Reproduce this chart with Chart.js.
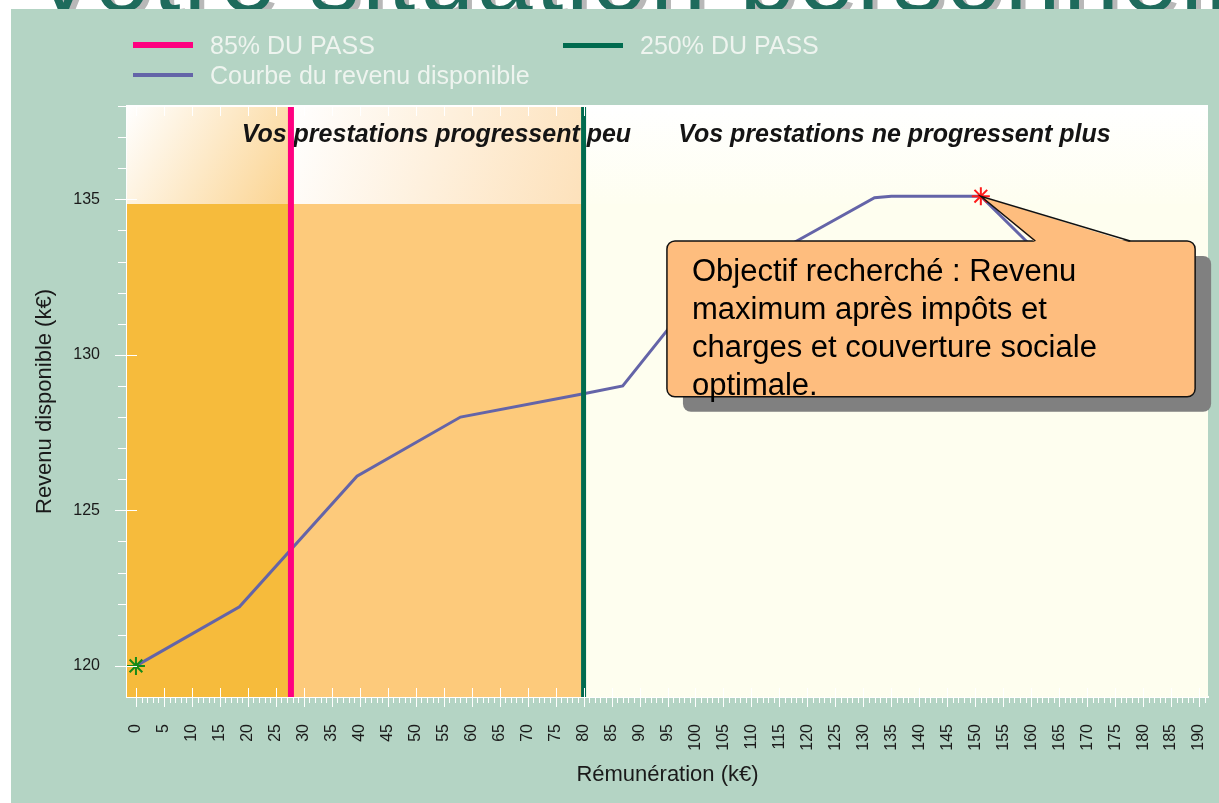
<!DOCTYPE html>
<html lang="fr">
<head>
<meta charset="utf-8">
<title>Votre situation personnelle</title>
<script src="https://cdn.jsdelivr.net/npm/chart.js@4.4.1/dist/chart.umd.min.js"></script>
<style>
  html, body { margin: 0; padding: 0; background: #fff; width: 1219px; height: 803px; overflow: hidden; }
  #title { position: absolute; left: 30px; top: -74px; font: 100px/100px "Liberation Sans", Arial, sans-serif;
           color: #1E6B5C; text-shadow: 5px 4px 0 #B8B8B8; white-space: nowrap; letter-spacing: 3px; }
  #panel { position: absolute; left: 11px; top: 9px; right: 0; bottom: 0; background: #B4D4C4; }
  #chart { position: absolute; left: 0; top: 0; }
  #legend { position: absolute; left: 133px; top: 30px; display: grid; grid-template-columns: 430px auto;
            grid-auto-rows: 30px; font: 25px "Liberation Sans", Arial, sans-serif; color: #EEF4EF; }
  #legend .item { display: flex; align-items: center; white-space: nowrap; }
  #legend .sw { display: inline-block; width: 60px; margin-right: 17px; }
</style>
</head>
<body>
<div id="title">Votre situation personnelle</div>
<div id="panel"></div>
<canvas id="chart" width="1219" height="803"></canvas>
<div id="legend"></div>
<script>
// rémunération (k€) / revenu disponible (k€)
const remuneration = [0, 18.5, 39.5, 58, 80, 87, 95, 99, 118.5, 132, 135, 151, 160];
const revenu = [120, 121.9, 126.1, 128.0, 128.75, 129.0, 130.8, 131.8, 133.7, 135.05, 135.1, 135.1, 133.5];

const pass85 = 27.7;   // 85% du PASS
const pass250 = 80;    // 250% du PASS

const xTickLabels = [0, 5, 10, 15, 20, 25, 30, 35, 40, 45, 50, 55, 60, 65, 70, 75, 80, 85, 90, 95,
                     100, 105, 110, 115, 120, 125, 130, 135, 140, 145, 150, 155, 160, 165, 170, 175, 180, 185, 190];
const yTickLabels = [120, 125, 130, 135];

const zoneLabels = ['Vos prestations progressent peu', 'Vos prestations ne progressent plus'];
const calloutLines = ['Objectif recherché : Revenu', 'maximum après impôts et',
                      'charges et couverture sociale', 'optimale.'];

const yMin = 119, yMax = 138;
const optIdx = remuneration.indexOf(151);

const curve = remuneration.map((x, i) => ({x: x, y: revenu[i]}));

function minorTicks(from, to) {
    const out = [];
    for (let v = from; v <= to; v++) out.push({value: v});
    return out;
}

const font = '"Liberation Sans", Arial, sans-serif';
Chart.defaults.font.family = font;

// fonds des zones + libellés des zones
const zones = {
    id: 'zones',
    beforeDatasetsDraw(chart) {
        const {ctx, chartArea: a, scales: {x, y}} = chart;
        const xp = x.getPixelForValue(pass85);
        const xg = x.getPixelForValue(pass250);
        const yb = y.getPixelForValue(134.85);
        ctx.save();
        ctx.fillStyle = '#FEFEEF';
        ctx.fillRect(a.left, a.top, a.right - a.left, a.bottom - a.top);
        let g = ctx.createLinearGradient(0, a.top, 0, yb);
        g.addColorStop(0, '#FFFFFF');
        g.addColorStop(1, '#FEFEF0');
        ctx.fillStyle = g;
        ctx.fillRect(xg, a.top, a.right - xg, yb - a.top);

        ctx.fillStyle = '#F6BB3C';
        ctx.fillRect(a.left, yb, xp - a.left, a.bottom - yb);
        ctx.fillStyle = '#FDCA7B';
        ctx.fillRect(xp, yb, xg - xp, a.bottom - yb);

        g = ctx.createLinearGradient(a.left, a.top, xp, yb);
        g.addColorStop(0, '#FFFFFF');
        g.addColorStop(1, '#FBD38F');
        ctx.fillStyle = g;
        ctx.fillRect(a.left, a.top, xp - a.left, yb - a.top);
        g = ctx.createLinearGradient(xp, a.top, xg, yb);
        g.addColorStop(0, '#FFFFFF');
        g.addColorStop(1, '#FDE1BA');
        ctx.fillStyle = g;
        ctx.fillRect(xp, a.top, xg - xp, yb - a.top);

        ctx.fillStyle = '#141414';
        ctx.font = 'italic bold 25px ' + font;
        ctx.textBaseline = 'alphabetic';
        const ty = y.getPixelForValue(136.85);
        ctx.fillText(zoneLabels[0], x.getPixelForValue(18.9), ty);
        ctx.fillText(zoneLabels[1], x.getPixelForValue(96.9), ty);
        ctx.restore();
    },
    afterDatasetsDraw(chart) {
        const {ctx, chartArea: a, scales: {x, y}} = chart;
        ctx.save();
        ctx.strokeStyle = '#FFFFFF';
        ctx.lineWidth = 1;
        ctx.beginPath();
        x.ticks.forEach(t => {
            const px = Math.round(x.getPixelForValue(t.value)) + 0.5;
            const major = xTickLabels.includes(t.value);
            ctx.moveTo(px, a.bottom - (major ? 9 : 0));
            ctx.lineTo(px, a.bottom + (major ? 10 : 6));
            if (major) {
                ctx.moveTo(px, a.top);
                ctx.lineTo(px, a.top + 10);
            }
        });
        y.ticks.forEach(t => {
            const py = Math.round(y.getPixelForValue(t.value)) + 0.5;
            const major = yTickLabels.includes(t.value);
            ctx.moveTo(a.left - (major ? 12 : 9), py);
            ctx.lineTo(a.left + (major ? 10 : 0), py);
        });
        ctx.stroke();
        ctx.lineWidth = 2;
        ctx.beginPath();
        ctx.moveTo(a.left, a.top);
        ctx.lineTo(a.right, a.top);
        ctx.stroke();
        ctx.restore();
    }
};

// bulle "Objectif recherché"
const callout = {
    id: 'callout',
    afterDraw(chart) {
        const {ctx, scales: {x, y}} = chart;
        const L = x.getPixelForValue(94.9), R = x.getPixelForValue(189.3);
        const T = y.getPixelForValue(133.66), B = y.getPixelForValue(128.65);
        const tipX = x.getPixelForValue(remuneration[optIdx]);
        const tipY = y.getPixelForValue(revenu[optIdx]);
        const b1 = x.getPixelForValue(160.75), b2 = x.getPixelForValue(177.7);
        ctx.save();
        ctx.fillStyle = '#808080';
        ctx.beginPath();
        ctx.roundRect(L + 16, T + 15, R - L, B - T, 8);
        ctx.fill();

        ctx.fillStyle = '#FEBD7E';
        ctx.strokeStyle = '#111111';
        ctx.lineWidth = 1.5;
        ctx.beginPath();
        ctx.roundRect(L, T, R - L, B - T, 8);
        ctx.fill();
        ctx.stroke();

        ctx.beginPath();
        ctx.moveTo(b1, T + 1.5);
        ctx.lineTo(tipX, tipY);
        ctx.lineTo(b2, T + 1.5);
        ctx.closePath();
        ctx.fill();
        ctx.beginPath();
        ctx.moveTo(b1, T);
        ctx.lineTo(tipX, tipY);
        ctx.lineTo(b2, T);
        ctx.stroke();

        ctx.fillStyle = '#000000';
        ctx.font = '31px ' + font;
        ctx.textBaseline = 'alphabetic';
        calloutLines.forEach((line, i) => {
            ctx.fillText(line, L + 25, T + 40 + i * 38);
        });
        ctx.restore();
    }
};

const chart = new Chart(document.getElementById('chart'), {
    type: 'line',
    data: {
        datasets: [
            {
                label: '85% DU PASS',
                data: [{x: pass85, y: yMin}, {x: pass85, y: yMax}],
                borderColor: '#FF0080',
                borderWidth: 6,
                pointRadius: 0,
                order: 0
            },
            {
                label: '250% DU PASS',
                data: [{x: pass250, y: yMin}, {x: pass250, y: yMax}],
                borderColor: '#006B4F',
                borderWidth: 5,
                pointRadius: 0,
                order: 0
            },
            {
                label: 'Courbe du revenu disponible',
                data: curve,
                borderColor: '#6464A8',
                borderWidth: 3,
                pointStyle: 'star',
                pointRadius: c => (c.dataIndex === 0 || c.dataIndex === optIdx) ? 9 : 0,
                pointBorderColor: c => c.dataIndex === optIdx ? '#FF1A1A' : '#178A17',
                pointBorderWidth: 2,
                order: 1
            }
        ]
    },
    options: {
        responsive: false,
        animation: false,
        events: [],
        devicePixelRatio: 1,
        layout: {padding: {left: 11, right: 9, top: 106, bottom: 0}},
        plugins: {
            legend: {display: false},
            tooltip: {enabled: false}
        },
        scales: {
            x: {
                type: 'linear',
                min: -1.6,
                max: 191.6,
                afterBuildTicks: s => { s.ticks = minorTicks(0, 191); },
                afterFit: s => {
                    s.height = 106;
                    s.paddingLeft = 0;
                    s.paddingRight = 0;
                },
                grid: {display: false, drawTicks: false},
                border: {color: '#FFFFFF', width: 2},
                ticks: {
                    autoSkip: false,
                    minRotation: 90,
                    maxRotation: 90,
                    padding: 27,
                    color: '#1A1A1A',
                    font: {size: 16},
                    callback: v => xTickLabels.includes(v) ? String(v) : ''
                },
                title: {
                    display: true,
                    text: 'Rémunération (k€)',
                    color: '#1A1A1A',
                    font: {size: 22},
                    padding: {top: 0, bottom: 15}
                }
            },
            y: {
                min: yMin,
                max: yMax,
                afterBuildTicks: s => { s.ticks = minorTicks(120, 138); },
                afterFit: s => {
                    s.width = 116;
                    s.paddingTop = 0;
                    s.paddingBottom = 0;
                },
                grid: {display: false, drawTicks: false},
                border: {color: '#FFFFFF', width: 2},
                ticks: {
                    padding: 27,
                    color: '#1A1A1A',
                    font: {size: 16},
                    callback: v => yTickLabels.includes(v) ? String(v) : ''
                },
                title: {
                    display: true,
                    text: 'Revenu disponible (k€)',
                    color: '#1A1A1A',
                    font: {size: 22},
                    padding: {top: 21, bottom: 0}
                }
            }
        }
    },
    plugins: [zones, callout]
});

// légende HTML (deux colonnes)
const legendEl = document.getElementById('legend');
chart.data.datasets.forEach(ds => {
    const item = document.createElement('div');
    item.className = 'item';
    const sw = document.createElement('span');
    sw.className = 'sw';
    sw.style.background = ds.borderColor;
    sw.style.height = Math.max(4, ds.borderWidth) + 'px';
    const txt = document.createElement('span');
    txt.textContent = ds.label;
    item.appendChild(sw);
    item.appendChild(txt);
    legendEl.appendChild(item);
});
</script>
</body>
</html>
